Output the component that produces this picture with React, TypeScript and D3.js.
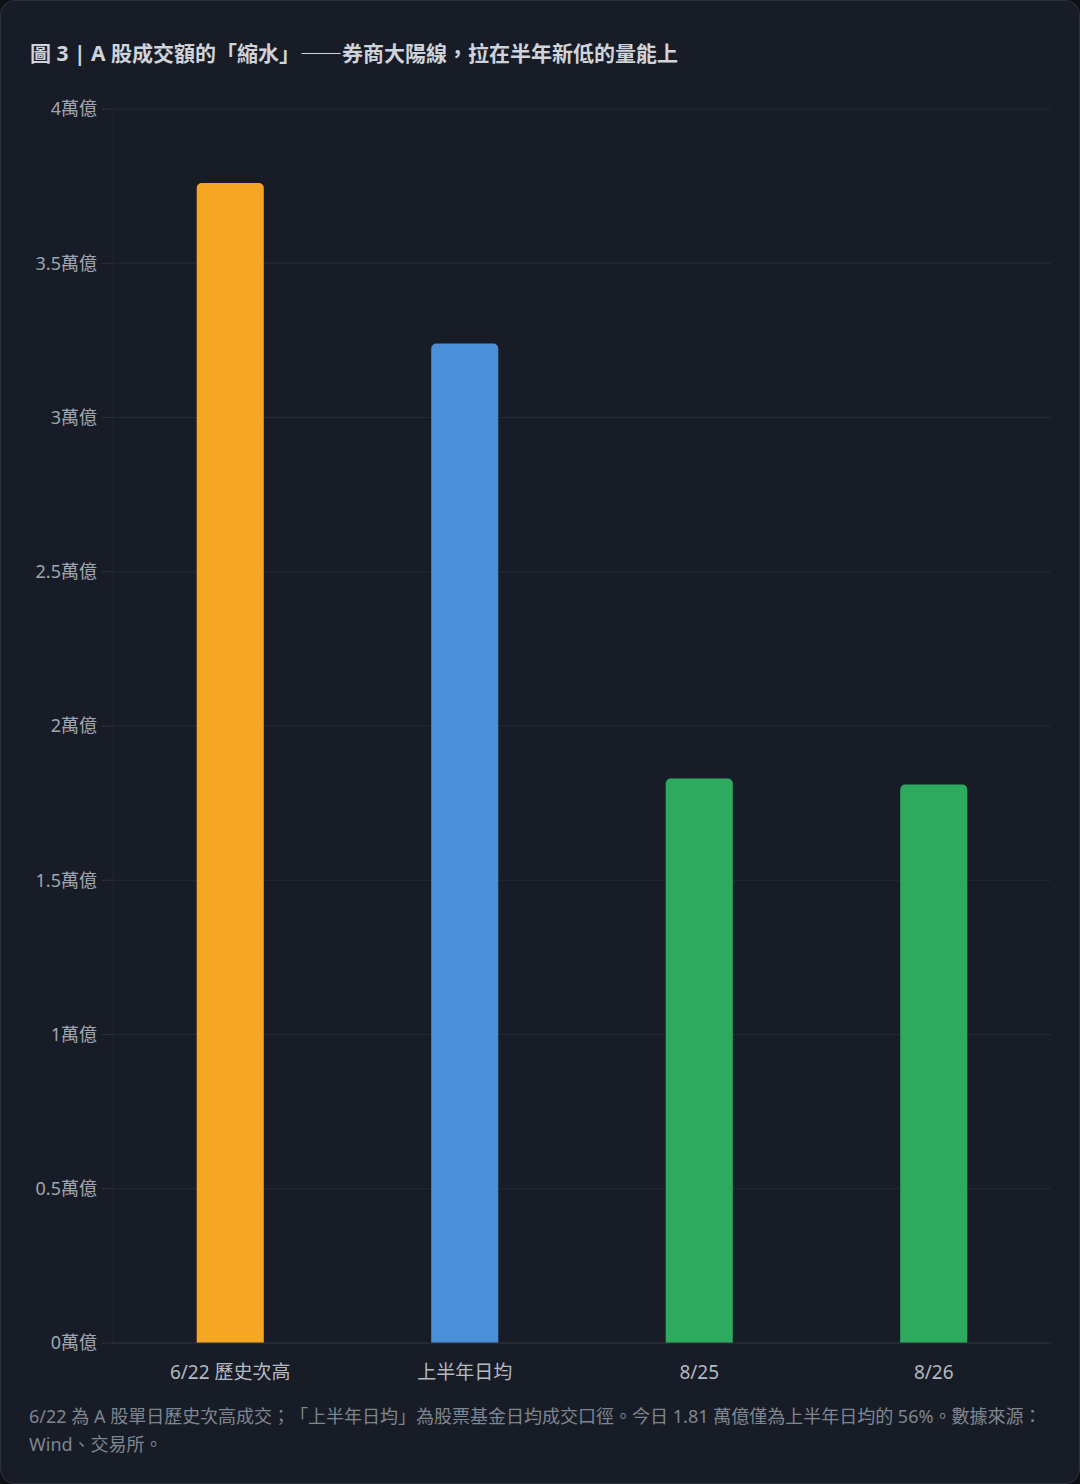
import React, { useEffect } from "react";
import * as d3 from "d3";

const categories = ["6/22 歷史次高", "上半年日均", "8/25", "8/26"];
const values = [3.76, 3.24, 1.83, 1.81];
const barColors = ["#f5a623", "#4a90d9", "#2eaa5f", "#2eaa5f"];
const yTicks = [0, 0.5, 1, 1.5, 2, 2.5, 3, 3.5, 4];
const titleParts = ["圖 3 | A 股成交額的「縮水」", "——", "券商大陽線，拉在半年新低的量能上"];
const noteLines = [
  "6/22 為 A 股單日歷史次高成交；「上半年日均」為股票基金日均成交口徑。今日 1.81 萬億僅為上半年日均的 56%。數據來源：",
  "Wind、交易所。",
];

const W = 1080;
const H = 1484;
const margin = { left: 113, right: 29, top: 109, bottom: 141 };
const font = "'Noto Sans', 'Noto Sans CJK TC', sans-serif";
const cjkFont = "'Noto Sans CJK TC', sans-serif";

function topRoundedRect(x: number, y: number, w: number, h: number, r: number) {
  const p = d3.path();
  p.moveTo(x, y + h);
  p.lineTo(x, y + r);
  p.arcTo(x, y, x + r, y, r);
  p.lineTo(x + w - r, y);
  p.arcTo(x + w, y, x + w, y + r, r);
  p.lineTo(x + w, y + h);
  p.closePath();
  return p.toString();
}

export default function App() {
  useEffect(() => {
    document.documentElement.lang = "zh-Hant-TW";
  }, []);
  const x = d3
    .scaleBand<string>()
    .domain(categories)
    .range([margin.left, W - margin.right])
    .paddingInner(0.714)
    .paddingOuter(0.357);
  const y = d3.scaleLinear().domain([0, 4]).range([H - margin.bottom, margin.top]);
  const fmt = (v: number) => `${v}萬億`;

  return (
    <svg
      width={W}
      height={H}
      lang="zh-Hant-TW"
      style={{
        position: "absolute",
        left: 0,
        top: 0,
        display: "block",
        background: "#0e1016",
        // @ts-ignore
        textSpacingTrim: "space-all",
      }}
      fontFamily={font}
    >
      <rect x={0.5} y={0.5} width={W - 1} height={H - 1} rx={14} fill="#181c26" stroke="#2c313c" />
      <text x={30} y={61} fill="#cfd3da" fontSize={21} fontWeight={700}>
        <tspan>{titleParts[0]}</tspan>
        <tspan fontFamily={cjkFont}>{titleParts[1]}</tspan>
        <tspan>{titleParts[2]}</tspan>
      </text>
      {yTicks.map((t) => (
        <g key={t}>
          <line x1={margin.left} x2={W - margin.right} y1={y(t)} y2={y(t)} stroke="#252a35" strokeWidth={1} />
          <line x1={margin.left - 11} x2={margin.left} y1={y(t)} y2={y(t)} stroke="#2c313c" strokeWidth={1} />
          <text x={97} y={y(t)} dy="0.35em" textAnchor="end" fill="#a0a6b0" fontSize={18}>
            {fmt(t)}
          </text>
        </g>
      ))}
      <line x1={margin.left} x2={margin.left} y1={margin.top} y2={y(0)} stroke="#20242e" strokeWidth={1} />
      {categories.map((c, i) => (
        <g key={c}>
          <path
            d={topRoundedRect(x(c)!, y(values[i]), x.bandwidth(), y(0) - y(values[i]), 5)}
            fill={barColors[i]}
          />
          <text
            x={x(c)! + x.bandwidth() / 2}
            y={y(0) + 29}
            dy="0.35em"
            textAnchor="middle"
            fill="#b4b9c2"
            fontSize={19}
          >
            {c}
          </text>
        </g>
      ))}
      <line x1={margin.left} x2={W - margin.right} y1={y(0)} y2={y(0)} stroke="#2c313c" strokeWidth={1} />
      {noteLines.map((l, i) => (
        <text key={i} x={29} y={1417 + i * 28} dy="0.35em" fill="#7f8691" fontSize={18}>
          {l}
        </text>
      ))}
    </svg>
  );
}
